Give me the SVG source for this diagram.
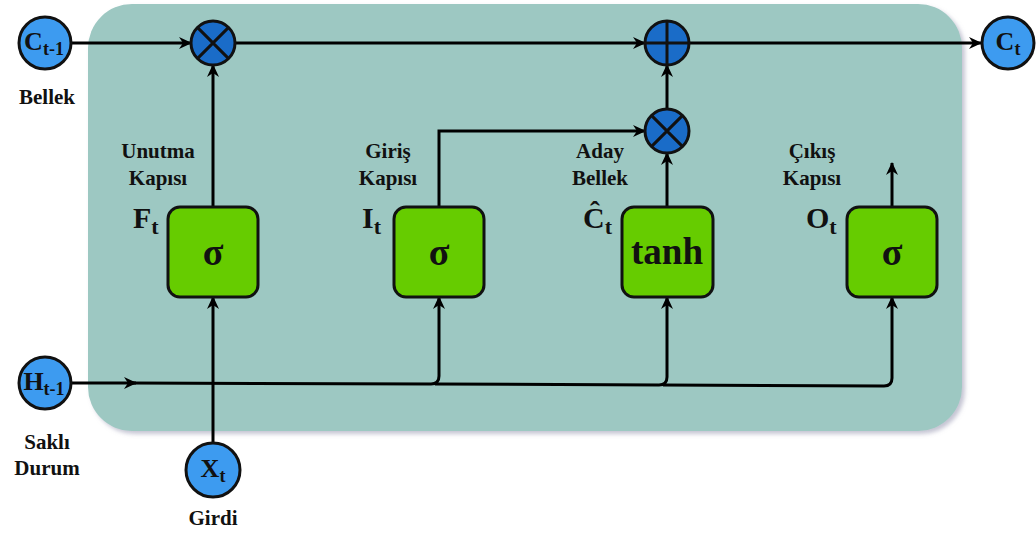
<svg xmlns="http://www.w3.org/2000/svg" width="1036" height="534" viewBox="0 0 1036 534">
<style>
.t{font-family:"Liberation Serif","Times New Roman","DejaVu Serif",serif;font-weight:bold;fill:#111}
.lbl{font-size:21px;text-anchor:middle}
.sig{font-size:38px;text-anchor:middle}
.ln{fill:none;stroke:#000;stroke-width:3}
.io{fill:#3d9bf0;stroke:#111;stroke-width:3}
.op{fill:#1a6cc8;stroke:#111;stroke-width:3}
.gate{fill:#66cc00;stroke:#111;stroke-width:3}
</style>
<defs>
<marker id="ah" markerWidth="14" markerHeight="12" refX="12" refY="6" orient="auto" markerUnits="userSpaceOnUse">
<path d="M0,0 L13,6 L0,12 L4,6 Z" fill="#000"/>
</marker>
<filter id="sh" x="-5%" y="-5%" width="110%" height="110%">
<feDropShadow dx="3" dy="3" stdDeviation="2" flood-color="#8a8aa8" flood-opacity="0.5"/>
</filter>
</defs>
<rect x="0" y="0" width="1036" height="534" fill="#fff"/>
<rect id="cell" x="88" y="4" width="874" height="427" rx="44" fill="#9dc8c2" filter="url(#sh)"/>

<g id="connectors">
<line class="ln" x1="71" y1="43" x2="191" y2="43" marker-end="url(#ah)"/>
<line class="ln" x1="235" y1="43" x2="645" y2="43" marker-end="url(#ah)"/>
<line class="ln" x1="689" y1="43" x2="981" y2="43" marker-end="url(#ah)"/>
<line class="ln" x1="213" y1="207" x2="213" y2="65" marker-end="url(#ah)"/>
<path class="ln" d="M439,207 L439,131 L645,131" marker-end="url(#ah)"/>
<line class="ln" x1="667" y1="207" x2="667" y2="153" marker-end="url(#ah)"/>
<line class="ln" x1="667" y1="109" x2="667" y2="65" marker-end="url(#ah)"/>
<line class="ln" x1="892" y1="207" x2="892" y2="163" marker-end="url(#ah)"/>
<line class="ln" x1="71" y1="383" x2="136" y2="383" marker-end="url(#ah)"/>
<path class="ln" d="M130,383 L431,384 Q439,384 439,376 L439,297" marker-end="url(#ah)"/>
<path class="ln" d="M435,384 L659,385 Q667,385 667,377 L667,297" marker-end="url(#ah)"/>
<path class="ln" d="M663,385 L884,386 Q892,386 892,378 L892,297" marker-end="url(#ah)"/>
<line class="ln" x1="213" y1="443" x2="213" y2="297" marker-end="url(#ah)"/>
</g>

<g id="c_prev">
<circle class="io" cx="45" cy="43" r="26"/>
<text class="t" x="44" y="50" text-anchor="middle"><tspan font-size="26">C</tspan><tspan font-size="18" dy="5">t-1</tspan></text>
<text class="t lbl" x="47" y="104">Bellek</text>
</g>
<g id="c_next">
<circle class="io" cx="1008" cy="43" r="26"/>
<text class="t" x="1008" y="50" text-anchor="middle"><tspan font-size="26">C</tspan><tspan font-size="18" dy="5">t</tspan></text>
</g>
<g id="h_prev">
<circle class="io" cx="45" cy="383" r="26"/>
<text class="t" x="44" y="390" text-anchor="middle"><tspan font-size="26">H</tspan><tspan font-size="18" dy="5">t-1</tspan></text>
<text class="t lbl" x="47" y="449">Saklı</text>
<text class="t lbl" x="47" y="475">Durum</text>
</g>
<g id="x_t">
<circle class="io" cx="213" cy="470" r="27"/>
<text class="t" x="213" y="477" text-anchor="middle"><tspan font-size="26">X</tspan><tspan font-size="18" dy="5">t</tspan></text>
<text class="t lbl" x="213" y="525">Girdi</text>
</g>

<g id="mul1">
<circle class="op" cx="213" cy="43" r="22"/>
<path d="M197.4,27.4 L228.6,58.6 M228.6,27.4 L197.4,58.6" stroke="#111" stroke-width="3"/>
</g>
<g id="add">
<circle class="op" cx="667" cy="43" r="22"/>
<path d="M645,43 L689,43 M667,21 L667,65" stroke="#111" stroke-width="3"/>
</g>
<g id="mul2">
<circle class="op" cx="667" cy="131" r="22"/>
<path d="M651.4,115.4 L682.6,146.6 M682.6,115.4 L651.4,146.6" stroke="#111" stroke-width="3"/>
</g>

<g id="forget">
<rect class="gate" x="168" y="207" width="90" height="90" rx="12"/>
<text class="t sig" x="213" y="265">σ</text>
<text class="t" x="133" y="228"><tspan font-size="30">F</tspan><tspan font-size="22" dy="6">t</tspan></text>
<text class="t lbl" x="158" y="158">Unutma</text>
<text class="t lbl" x="158" y="185">Kapısı</text>
</g>
<g id="input">
<rect class="gate" x="394" y="207" width="90" height="90" rx="12"/>
<text class="t sig" x="439" y="265">σ</text>
<text class="t" x="362" y="228"><tspan font-size="30">I</tspan><tspan font-size="22" dy="6">t</tspan></text>
<text class="t lbl" x="388" y="158">Giriş</text>
<text class="t lbl" x="388" y="185">Kapısı</text>
</g>
<g id="candidate">
<rect class="gate" x="622" y="207" width="91" height="90" rx="12"/>
<text class="t" x="667" y="264" font-size="37" text-anchor="middle">tanh</text>
<text class="t" x="583" y="228"><tspan font-size="30">Ĉ</tspan><tspan font-size="22" dy="6">t</tspan></text>
<text class="t lbl" x="600" y="158">Aday</text>
<text class="t lbl" x="600" y="185">Bellek</text>
</g>
<g id="output">
<rect class="gate" x="847" y="207" width="90" height="90" rx="12"/>
<text class="t sig" x="892" y="265">σ</text>
<text class="t" x="806" y="228"><tspan font-size="30">O</tspan><tspan font-size="22" dy="6">t</tspan></text>
<text class="t lbl" x="812" y="158">Çıkış</text>
<text class="t lbl" x="812" y="185">Kapısı</text>
</g>
</svg>
